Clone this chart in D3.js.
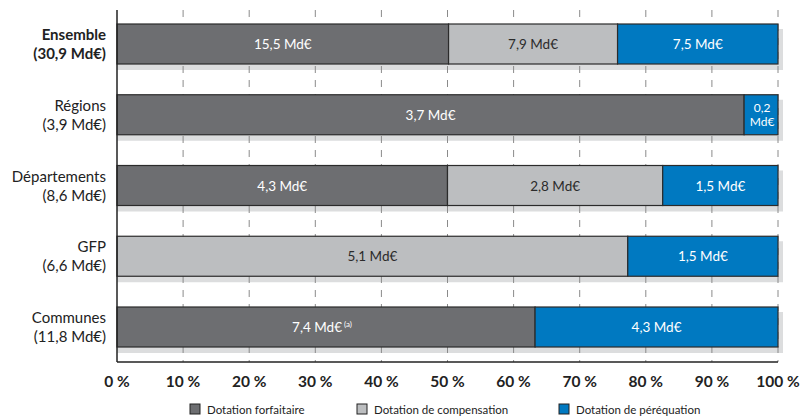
<!DOCTYPE html>
<html>
<head>
<meta charset="utf-8">
<script src="https://cdn.jsdelivr.net/npm/d3@7"></script>
<style>
  body { margin: 0; background: #fff; }
  svg text { font-family: "Lato", "Open Sans", sans-serif; }
</style>
</head>
<body>
<svg id="chart" width="802" height="417"></svg>
<script>
// données
var categories = ["Ensemble", "Régions", "Départements", "GFP", "Communes"];
var totals = ["30,9", "3,9", "8,6", "6,6", "11,8"];
var forfaitaire = [15.5, 3.7, 4.3, 0, 7.4];
var compensation = [7.9, 0, 2.8, 5.1, 0];
var perequation = [7.5, 0.2, 1.5, 1.5, 4.3];
var seriesNames = ["Dotation forfaitaire", "Dotation de compensation", "Dotation de péréquation"];
var ticks = [0, 10, 20, 30, 40, 50, 60, 70, 80, 90, 100];
var notes = ["", "", "", "", "(a)"];

var colors = ["#6d6e71", "#bcbec0", "#0079c1"];
var textColors = ["#fff", "#2b2b2b", "#fff"];

var svg = d3.select("#chart");
var x = d3.scaleLinear().domain([0, 100]).range([117, 778]);
// bandes : hauteur 40, pas ~70.75
var y = d3.scaleBand().domain(categories).range([24, 347]).paddingInner(30.75 / 70.75).paddingOuter(0);

var rows = categories.map(function (c, i) {
    var vals = [forfaitaire[i], compensation[i], perequation[i]];
    var sum = d3.sum(vals);
    var acc = 0;
    var segs = vals.map(function (v, k) {
        var s = { cat: c, k: k, v: v, x0: acc / sum * 100, x1: (acc + v) / sum * 100, note: k === 0 ? notes[i] : "" };
        acc += v;
        return s;
    });
    return { cat: c, i: i, segs: segs.filter(function (s) { return s.v > 0; }) };
});

// ombres
svg.append("g").selectAll("rect").data(rows).enter().append("rect")
    .attr("x", x(0))
    .attr("y", function (d) { return y(d.cat) + 5; })
    .attr("width", x(100) - x(0) + 5)
    .attr("height", y.bandwidth() + 1)
    .attr("fill", "#dcddde");

// grille
svg.append("g").selectAll("line").data(ticks.slice(1)).enter().append("line")
    .attr("x1", function (d) { return x(d); })
    .attr("x2", function (d) { return x(d); })
    .attr("y1", 10).attr("y2", 362)
    .attr("stroke", "#8a8a8a").attr("stroke-width", 1)
    .attr("stroke-dasharray", "7,7");

// barres
var rowG = svg.append("g").selectAll("g").data(rows).enter().append("g");
rowG.selectAll("rect").data(function (d) { return d.segs; }).enter().append("rect")
    .attr("x", function (d) { return x(d.x0); })
    .attr("y", function (d) { return y(d.cat); })
    .attr("width", function (d) { return x(d.x1) - x(d.x0); })
    .attr("height", y.bandwidth())
    .attr("fill", function (d) { return colors[d.k]; })
    .attr("stroke", "#2b2b2b").attr("stroke-width", 1.2);

rowG.each(function (row) {
    var g = d3.select(this);
    row.segs.forEach(function (d) {
        var cx = (x(d.x0) + x(d.x1)) / 2;
        var cy = y(d.cat) + y.bandwidth() / 2;
        var lbl = String(d.v).replace(".", ",");
        if (x(d.x1) - x(d.x0) < 50) {
            // segment étroit : deux lignes
            [lbl, "Md€"].forEach(function (s, j) {
                g.append("text")
                    .attr("x", cx + 1).attr("y", cy - 3 + j * 14)
                    .attr("text-anchor", "middle")
                    .attr("fill", textColors[d.k])
                    .attr("font-size", 12)
                    .text(s);
            });
        } else {
            var t = g.append("text")
                .attr("x", cx + (d.note ? -4 : 0))
                .attr("y", cy + 5)
                .attr("text-anchor", "middle")
                .attr("fill", textColors[d.k])
                .attr("font-size", 13.5)
                .text(lbl + " Md€");
            if (d.note) {
                t.append("tspan").attr("font-size", 8).attr("dy", -5).text(" " + d.note);
            }
        }
    });
});

// axes
svg.append("line").attr("x1", x(0)).attr("x2", x(0)).attr("y1", 10).attr("y2", 362)
    .attr("stroke", "#222").attr("stroke-width", 1.5);
svg.append("line").attr("x1", x(0)).attr("x2", x(100)).attr("y1", 362).attr("y2", 362)
    .attr("stroke", "#222").attr("stroke-width", 1.5);

svg.append("g").selectAll("text").data(ticks).enter().append("text")
    .attr("x", function (d) { return x(d); })
    .attr("y", 387)
    .attr("text-anchor", "middle")
    .attr("font-size", 15.5).attr("font-weight", "bold").attr("fill", "#222")
    .text(function (d) { return d + " %"; });

// libellés catégories
var labG = svg.append("g").selectAll("text").data(rows).enter().append("text")
    .attr("text-anchor", "end")
    .attr("font-size", 15)
    .attr("fill", "#222")
    .attr("font-weight", function (d) { return d.i === 0 ? "bold" : "normal"; });
labG.append("tspan").attr("x", 106)
    .attr("y", function (d) { return y(d.cat) + y.bandwidth() / 2 - 4; })
    .text(function (d) { return d.cat; });
labG.append("tspan").attr("x", 106)
    .attr("y", function (d) { return y(d.cat) + y.bandwidth() / 2 + 15; })
    .text(function (d) { return "(" + totals[d.i] + " Md€)"; });

// légende
var legX = [190, 357, 559];
var leg = svg.append("g").selectAll("g").data(seriesNames).enter().append("g")
    .attr("transform", function (d, i) { return "translate(" + legX[i] + ",404)"; });
leg.append("rect").attr("width", 10).attr("height", 10)
    .attr("fill", function (d, i) { return colors[i]; })
    .attr("stroke", "#222").attr("stroke-width", 1);
leg.append("text").attr("x", 17).attr("y", 10)
    .attr("font-size", 11.5).attr("fill", "#222")
    .text(function (d) { return d; });
</script>
</body>
</html>
